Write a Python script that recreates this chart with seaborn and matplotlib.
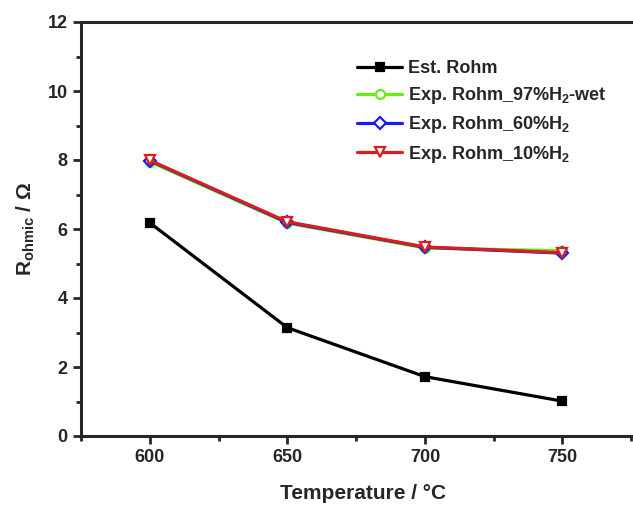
import matplotlib
matplotlib.use("Agg")
import matplotlib.pyplot as plt
from matplotlib.ticker import MultipleLocator
import pandas as pd
import seaborn as sns

temperature = [600, 650, 700, 750]
est_rohm = [6.18, 3.14, 1.72, 1.01]
exp_97_wet = [7.95, 6.17, 5.45, 5.37]
exp_60 = [7.98, 6.19, 5.47, 5.30]
exp_10 = [7.99, 6.21, 5.48, 5.31]

labels = [
    "Est. Rohm",
    r"Exp. Rohm_97%H$_\mathbf{2}$-wet",
    r"Exp. Rohm_60%H$_\mathbf{2}$",
    r"Exp. Rohm_10%H$_\mathbf{2}$",
]

sns.set_style("ticks")
plt.rcParams["font.family"] = ["Liberation Sans", "DejaVu Sans"]
plt.rcParams["mathtext.fontset"] = "custom"
plt.rcParams["mathtext.rm"] = "Liberation Sans"
plt.rcParams["mathtext.bf"] = "Liberation Sans:bold"
plt.rcParams["mathtext.it"] = "Liberation Sans:italic"

fig = plt.figure(figsize=(6.33, 5.05), dpi=100)
ax = fig.add_axes([81 / 633, 69 / 505, 564 / 633, 414 / 505])

# (values, colour, marker, face colour, marker size)
styles = [
    (est_rohm, "black", "s", "black", 6),
    (exp_97_wet, "#66ee11", "o", "white", 6.5),
    (exp_60, "#1a1aff", "D", "white", 6),
    (exp_10, "#dd1c1c", "v", "white", 7),
]

for (vals, color, marker, face, ms), label in zip(styles, labels):
    df = pd.DataFrame({"T": temperature, "R": vals})
    sns.lineplot(data=df, x="T", y="R", ax=ax, color=color, lw=2.3,
                 marker=marker, markersize=ms, markerfacecolor=face,
                 markeredgecolor=color, markeredgewidth=1.6, label=label)

# right spine sits just past the picture's edge, as in the source
ax.set_xlim(575, 780)
ax.set_ylim(0, 12)
ax.xaxis.set_major_locator(MultipleLocator(50))
ax.xaxis.set_minor_locator(MultipleLocator(25))
ax.yaxis.set_major_locator(MultipleLocator(2))
ax.yaxis.set_minor_locator(MultipleLocator(1))

for s in ax.spines.values():
    s.set_linewidth(2.2)
ax.tick_params(which="major", length=6, width=2, labelsize=13, direction="out")
ax.tick_params(which="minor", length=3.5, width=2, direction="out")
for t in ax.get_xticklabels() + ax.get_yticklabels():
    t.set_fontweight("bold")

ax.set_xlabel("Temperature / °C", fontsize=15, fontweight="bold", labelpad=13)
ax.set_ylabel(r"R$_{\mathbf{ohmic}}$ / Ω", fontsize=15, fontweight="bold", labelpad=8)

ax.legend(loc="upper left", bbox_to_anchor=(350 / 633, 1 - 53 / 505),
          bbox_transform=fig.transFigure, frameon=False,
          prop={"weight": "bold", "size": 13}, handlelength=2.5,
          handletextpad=0.3, labelspacing=0.45, borderaxespad=0)

fig.savefig("out.png", dpi=100)
